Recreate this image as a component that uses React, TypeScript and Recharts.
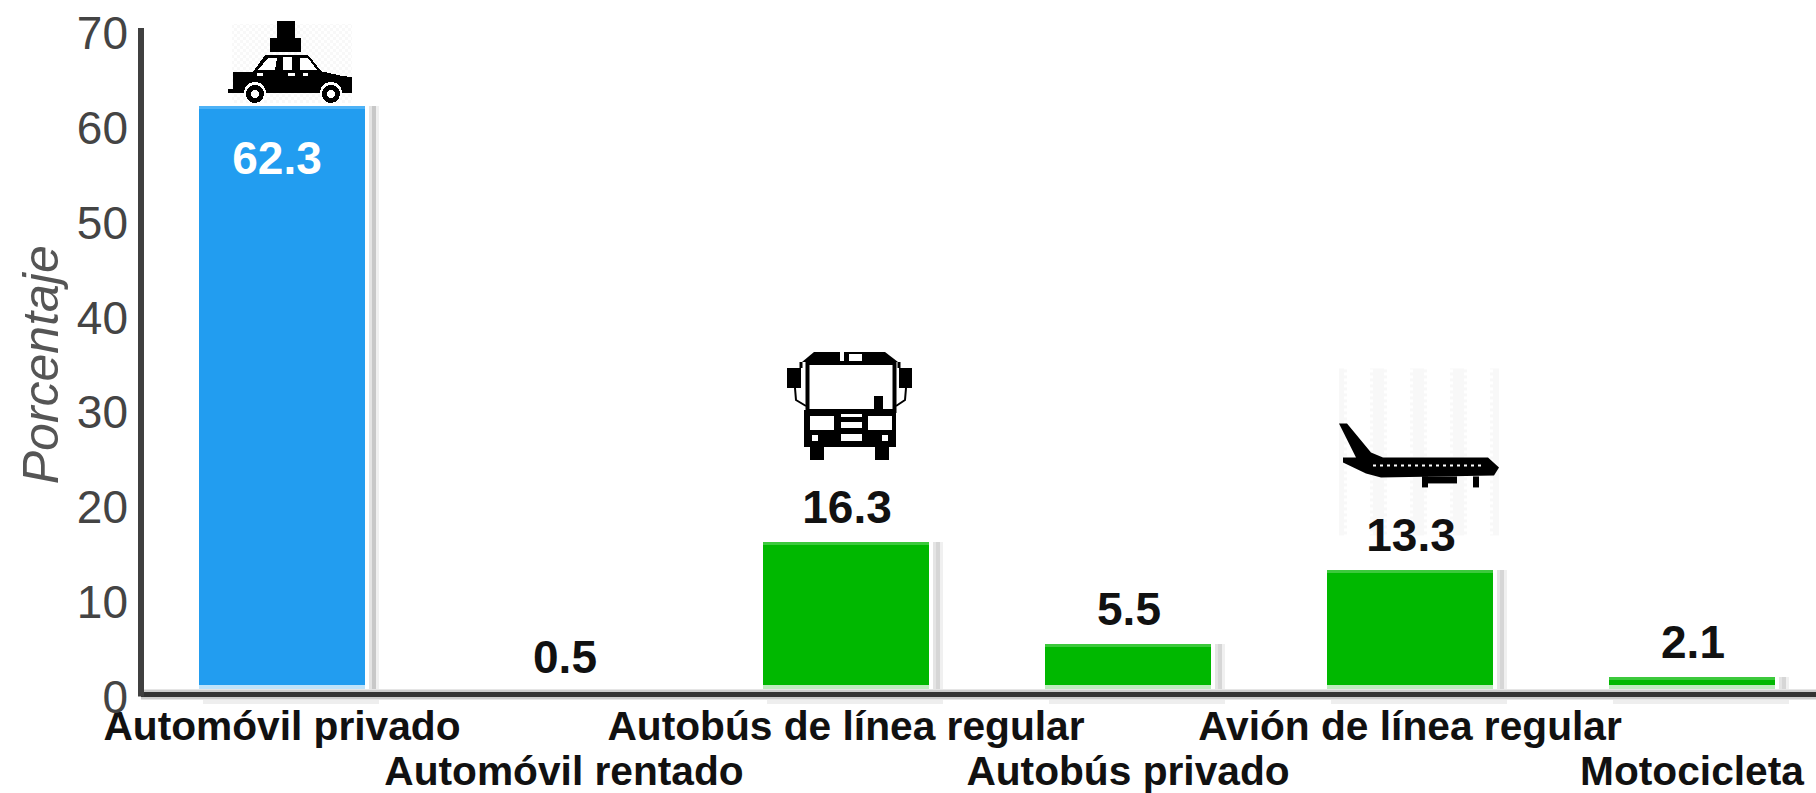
import { Bar, BarChart, LabelList, ReferenceLine, XAxis, YAxis } from "recharts";

const categories = [
  "Automóvil privado",
  "Automóvil rentado",
  "Autobús de línea regular",
  "Autobús privado",
  "Avión de línea regular",
  "Motocicleta",
];
const percentages = [62.3, 0.5, 16.3, 5.5, 13.3, 2.1];
const yTicks = [0, 10, 20, 30, 40, 50, 60, 70];

const data = categories.map((name, i) => ({ name, value: percentages[i] }));

const FONT = "'Liberation Sans', Arial, sans-serif";
const BASELINE = 696.5;

function CarIcon() {
  return (
    <g shapeRendering="crispEdges">
      <rect x={-50} y={-82} width={120} height={79} fill="url(#dither)" />
      <rect x={-5} y={-85} width={18} height={17} fill="#000" />
      <rect x={-12} y={-68} width={31} height={14} fill="#000" />
      <polygon points="-29,-34 -17,-51 26,-51 40,-34" fill="#000" />
      <polygon points="-24,-36 -14,-48 -5,-48 -7,-36" fill="#fff" />
      <rect x={1} y={-49} width={9} height={13} fill="#fff" />
      <polygon points="18,-48 26,-48 35,-36 18,-36" fill="#fff" />
      <polygon points="-49,-34 43,-34 60,-30 70,-29 70,-13 -49,-13" fill="#000" />
      <rect x={-54} y={-17} width={5} height={4} fill="#000" />
      <rect x={-25} y={-33} width={6} height={3} fill="#fff" />
      <rect x={6} y={-33} width={7} height={3} fill="#fff" />
      <rect x={21} y={-33} width={5} height={3} fill="#fff" />
      <circle cx={-27} cy={-13} r={11} fill="#fff" />
      <circle cx={49} cy={-13} r={11} fill="#fff" />
      <circle cx={-27} cy={-12} r={6.5} fill="#fff" stroke="#000" strokeWidth={5} />
      <circle cx={49} cy={-12} r={6.5} fill="#fff" stroke="#000" strokeWidth={5} />
    </g>
  );
}

function BusIcon() {
  return (
    <g>
      <polygon points="-44,-180 -32,-190 39,-190 52,-180" fill="#000" />
      <rect x={-6} y={-191} width={4} height={10} fill="#fff" />
      <rect x={3} y={-188} width={13} height={7} fill="#fff" />
      <rect x={-59} y={-174} width={14} height={20} fill="#000" />
      <rect x={53} y={-174} width={13} height={20} fill="#000" />
      <path d="M-51,-154 L-50,-142 L-40,-136 M60,-154 L59,-142 L50,-136" fill="none" stroke="#000" strokeWidth={2} />
      <path d="M-45,-174 V-180 M53,-174 V-180" fill="none" stroke="#000" strokeWidth={3} />
      <rect x={-38.5} y={-179} width={87} height={48} fill="#fff" stroke="#000" strokeWidth={4} />
      <rect x={28} y={-146} width={9} height={14} fill="#000" />
      <rect x={-42} y={-132} width={92} height={37} fill="#000" />
      <rect x={-36} y={-126} width={24} height={14} fill="#fff" />
      <rect x={22} y={-126} width={24} height={14} fill="#fff" />
      <rect x={-5} y={-128} width={21} height={3} fill="#fff" />
      <rect x={-5} y={-120} width={21} height={6} fill="#fff" />
      <rect x={-5} y={-108} width={21} height={7} fill="#fff" />
      <rect x={-34} y={-107} width={6} height={6} fill="#fff" />
      <rect x={36} y={-107} width={6} height={6} fill="#fff" />
      <rect x={-36} y={-95} width={14} height={13} fill="#000" />
      <rect x={29} y={-95} width={14} height={13} fill="#000" />
    </g>
  );
}

function PlaneIcon() {
  return (
    <g>
      <rect x={-71} y={-202} width={160} height={167} fill="url(#ditherBands)" />
      <polygon
        points="-71,-147 -63,-147 -39,-118 -27,-113 78,-113 89,-103 84,-95 -29,-93 -44,-97 -67,-108 -67,-113 -54,-113"
        fill="#000"
      />
      <rect x={12} y={-94} width={35} height={7} fill="#000" />
      <rect x={12} y={-94} width={6} height={11} fill="#000" />
      <rect x={63} y={-94} width={6} height={11} fill="#000" />
      <line x1={-37} y1={-105} x2={73} y2={-105} stroke="#fff" strokeWidth={2} strokeDasharray="3 4" />
    </g>
  );
}

const icons: any[] = [CarIcon, null, BusIcon, null, PlaneIcon, null];

function ShadowBar({ x, y, width, index }: any) {
  const main = index === 0 ? "#229DF0" : "#00B800";
  const light = index === 0 ? "#4DB2F6" : "#3CC93C";
  const fade = index === 0 ? "#BFE3FA" : "#BDEBBD";
  const shadow = index === 0 ? "#C8C8C8" : "#D6D6D6";
  const bottom = BASELINE - 7.5;
  const fadeTop = BASELINE - 11.5;
  const Icon = icons[index];
  const right = x + width;
  return (
    <g>
      {y < bottom && (
        <g shapeRendering="crispEdges">
          <rect x={x} y={y} width={width} height={bottom - y} fill={fade} />
          <rect x={x} y={y} width={width} height={Math.max(fadeTop - y, 0)} fill={main} />
          <rect x={x} y={y} width={width} height={3} fill={light} />
          <rect x={right + 4} y={y} width={3} height={bottom - y} fill="#E4E4E4" />
          <rect x={right + 7} y={y} width={4} height={bottom - y} fill={shadow} />
          <rect x={right + 11} y={y} width={3} height={bottom - y} fill="#F0F0F0" />
          <rect x={x + 4} y={BASELINE + 3} width={width + 10} height={4} fill="#EEEEEE" />
        </g>
      )}
      {Icon && (
        <g transform={`translate(${x + width / 2},${y})`}>
          <Icon />
        </g>
      )}
    </g>
  );
}

function ValueLabel({ x, y, width, value, index }: any) {
  const inside = index === 0;
  return (
    <text
      x={x + width / 2 + (inside ? -5 : 1)}
      y={inside ? y + 68 : y - 19}
      textAnchor="middle"
      fontFamily={FONT}
      fontWeight="bold"
      fontSize={46}
      fill={inside ? "#fff" : "#111"}
    >
      {value}
    </text>
  );
}

function CategoryTick({ x, y, payload, index }: any) {
  return (
    <text
      x={x}
      y={y + (index % 2 === 0 ? 43.5 : 88)}
      textAnchor="middle"
      fontFamily={FONT}
      fontWeight="bold"
      fontSize={40.7}
      fill="#111"
    >
      {payload.value}
    </text>
  );
}

function AxisLabel({ viewBox }: any) {
  const cx = viewBox.x + 41;
  const cy = viewBox.y + viewBox.height / 2;
  return (
    <text
      x={cx}
      y={cy}
      transform={`rotate(-90 ${cx} ${cy})`}
      textAnchor="middle"
      dominantBaseline="central"
      fontFamily={FONT}
      fontStyle="italic"
      fontSize={50}
      fill="#555"
    >
      Porcentaje
    </text>
  );
}

// the axis line runs a little past the 70 tick
function AxisCap({ x1, y1 }: any) {
  return <line x1={x1} y1={y1 + 3} x2={x1} y2={y1 - 5} stroke="#404040" strokeWidth={6} />;
}

export default function App() {
  return (
    <div style={{ position: "absolute", left: 0, top: 0, width: 1816, height: 793, overflow: "hidden", background: "#fff" }}>
      <BarChart width={1840} height={793} data={data} barSize={166} margin={{ top: 33, right: 7, bottom: 0, left: 0 }}>
        <defs>
          <pattern id="dither" width={6} height={6} patternUnits="userSpaceOnUse">
            <rect width={3} height={3} fill="#F8F8F8" />
            <rect x={3} y={3} width={3} height={3} fill="#F8F8F8" />
          </pattern>
          <pattern id="ditherBands" width={40} height={6} patternUnits="userSpaceOnUse">
            <rect width={14} height={3} fill="#F8F8F8" />
            <rect x={3} y={3} width={14} height={3} fill="#F8F8F8" />
          </pattern>
        </defs>
        <XAxis
          dataKey="name"
          height={96.5}
          interval={0}
          axisLine={false}
          tickLine={false}
          tickSize={0}
          tickMargin={0}
          tick={<CategoryTick />}
        />
        <YAxis
          width={141}
          domain={[0, 70]}
          ticks={yTicks}
          interval={0}
          axisLine={{ stroke: "#404040", strokeWidth: 6 }}
          tickLine={false}
          tickSize={0}
          tickMargin={13}
          tick={{ fontFamily: FONT, fontSize: 46, fill: "#444" }}
          label={<AxisLabel />}
        />
        <Bar dataKey="value" shape={<ShadowBar />} isAnimationActive={false}>
          <LabelList dataKey="value" content={<ValueLabel />} />
        </Bar>
        <ReferenceLine y={0.2} stroke="#CCCCCC" strokeWidth={10} />
        <ReferenceLine y={0.2} stroke="#333333" strokeWidth={5} />
        <ReferenceLine y={70} shape={<AxisCap />} />
      </BarChart>
    </div>
  );
}
